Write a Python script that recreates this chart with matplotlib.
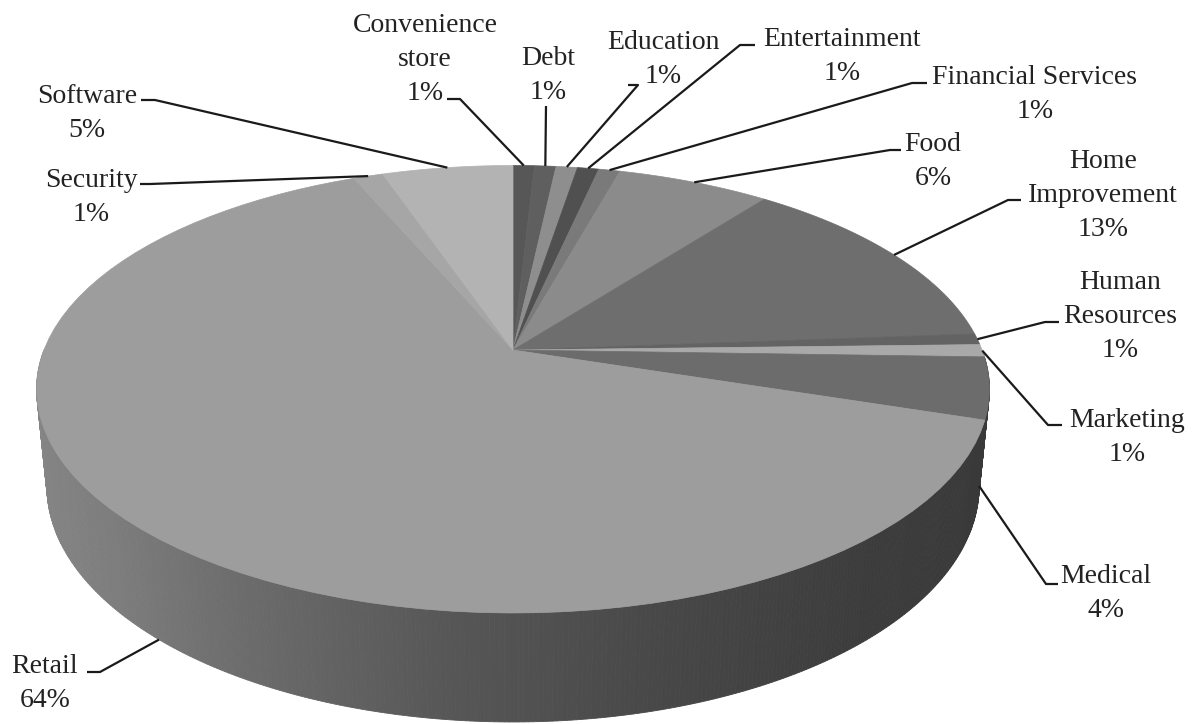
import matplotlib
matplotlib.use('Agg')
import matplotlib.pyplot as plt
from matplotlib.patches import Polygon
import numpy as np

# data
categories = ["Convenience\nstore", "Debt", "Education", "Entertainment",
              "Financial Services", "Food", "Home\nImprovement",
              "Human\nResources", "Marketing", "Medical", "Retail",
              "Security", "Software"]
shares = [0.86, 0.86, 0.86, 0.86, 0.86, 6.15, 13.35, 0.8, 0.9, 4.45, 63.6, 1.2, 5.25]
top_grays = ["#575757", "#5f5f5f", "#8e8e8e", "#505050", "#7a7a7a", "#8b8b8b",
             "#6e6e6e", "#636363", "#a9a9a9", "#6c6c6c", "#9d9d9d", "#a6a6a6",
             "#b3b3b3"]

# label layout in pixels: text x, last-line baseline y, leader elbow x/y, leader end x
label_layout = [
    (425, 100, 460, 99, 447),
    (548, 99, 546, 106, 546),
    (663, 83, 638, 85, 628),
    (842, 80, 740, 45, 755),
    (1035, 118, 912, 83, 927),
    (933, 185, 890, 150, 901),
    (1103, 236, 1008, 200, 1021),
    (1120, 357, 1045, 322, 1059),
    (1127, 461, 1048, 425, 1062),
    (1106, 617, 1046, 584, 1058),
    (45, 707, 100, 672, 87),
    (91, 221, 150, 184, 140),
    (87, 137, 155, 100, 141),
]

# perspective camera for the 3d pie (pixel space)
X0, Y0 = 513.0, 350.0
FOC = 2371.0
DIST = 5.055
ELEV = np.radians(27.54)
THICK = 0.2353
ce, se = np.cos(ELEV), np.sin(ELEV)


def project(theta, z):
    # theta clockwise from 12 o'clock (radians), z = 0 top, -THICK bottom
    u = np.sin(theta)
    v = np.cos(theta)
    depth = DIST + v * ce - z * se
    yc = v * se + z * ce
    return X0 + FOC * u / depth, Y0 - FOC * yc / depth


def side_gray(theta):
    u = np.sin(theta)
    g = np.interp(u, [-1, -0.75, -0.5, -0.11, 0.27, 0.65, 1],
                  [135, 125, 109, 87, 72, 61, 57])
    return '#%02x%02x%02x' % (int(g), int(g), int(g))


fig = plt.figure(figsize=(12.02, 7.24), dpi=100)
ax = fig.add_axes([0, 0, 1, 1])
ax.set_xlim(0, 1202)
ax.set_ylim(724, 0)
ax.axis('off')

total = float(sum(shares))
bounds = np.concatenate([[0], np.cumsum(shares)]) / total * 2 * np.pi

# side wall, front half only, drawn back to front
pieces = []
for i in range(len(shares)):
    a0 = max(bounds[i], np.pi / 2)
    a1 = min(bounds[i + 1], 3 * np.pi / 2)
    if a1 <= a0:
        continue
    n = max(2, int(np.degrees(a1 - a0) / 0.5) + 1)
    ts = np.linspace(a0, a1, n)
    for t0, t1 in zip(ts[:-1], ts[1:]):
        xt, yt = project(np.array([t0, t1]), 0.0)
        xb, yb = project(np.array([t1, t0]), -THICK)
        pts = np.column_stack([np.concatenate([xt, xb]), np.concatenate([yt, yb])])
        pieces.append((np.cos((t0 + t1) / 2), pts, side_gray((t0 + t1) / 2)))

pieces.sort(key=lambda p: -p[0])
for _, pts, col in pieces:
    ax.add_patch(Polygon(pts, closed=True, facecolor=col, edgecolor=col,
                         linewidth=0.6, zorder=1))

# top face
for i in range(len(shares)):
    ts = np.linspace(bounds[i], bounds[i + 1], 80)
    xs, ys = project(ts, 0.0)
    pts = np.column_stack([np.concatenate([[X0], xs]), np.concatenate([[Y0], ys])])
    ax.add_patch(Polygon(pts, closed=True, facecolor=top_grays[i],
                         edgecolor=top_grays[i], linewidth=0.5, zorder=2))

# labels and leader lines
for i, name in enumerate(categories):
    tx, ty, ex, ey, endx = label_layout[i]
    mid = (bounds[i] + bounds[i + 1]) / 2
    z = -THICK if np.cos(mid) < -0.1 else 0.0
    axx, axy = project(mid, z)
    ax.plot([axx, ex, endx], [axy, ey, ey], color='#1a1a1a', lw=1.6,
            solid_capstyle='butt', zorder=3)
    pct = shares[i] / total * 100
    ax.text(tx, ty, '%s\n%.0f%%' % (name, pct), ha='center', va='baseline',
            family='Liberation Serif', fontsize=20, color='#222222',
            linespacing=1.48, zorder=4)

fig.savefig('out.png', dpi=100, facecolor='white')
